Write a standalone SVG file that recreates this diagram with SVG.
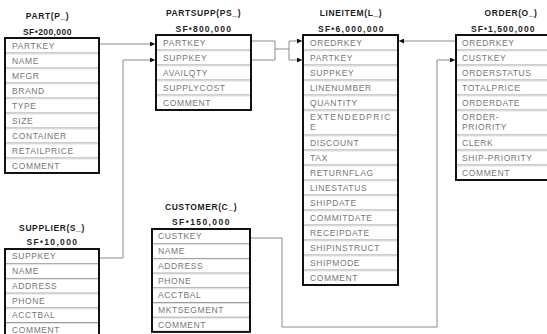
<svg xmlns="http://www.w3.org/2000/svg" width="547" height="334" viewBox="0 0 547 334">
  <style>
    .bg { fill: #ffffff; }
    .box { fill: #ffffff; stroke: #111111; stroke-width: 2; }
    .sep { stroke: #9c9c9c; stroke-width: 1; }
    .sep2 { stroke: #e2e2e2; stroke-width: 1; }
    .fld { font-family: "Liberation Sans", Arial, sans-serif; font-size: 8.5px; fill: #777777; letter-spacing: 0.6px; }
    .ttl { font-family: "Liberation Sans", Arial, sans-serif; font-size: 8.5px; font-weight: bold; fill: #1e1e1e; text-anchor: middle; letter-spacing: 0.6px; }
    .conn { fill: none; stroke: #8c8c8c; stroke-width: 1; }
  </style>
  <defs>
    <marker id="arr" viewBox="0 0 5 5" refX="5" refY="2.5" markerWidth="5" markerHeight="5" markerUnits="userSpaceOnUse" orient="auto">
      <path d="M0,0 L5,2.5 L0,5 z" fill="#111111"/>
    </marker>
  </defs>
  <rect class="bg" x="0" y="0" width="547" height="334"/>

  <!-- relationships -->
  <g id="connectors">
    <path class="conn" d="M99,44 H155" marker-end="url(#arr)"/>
    <path class="conn" d="M99,258 H123 V60 H155" marker-end="url(#arr)"/>
    <path class="conn" d="M251,41 H275 V60 H251 M275,49 H289 M289,41 V60"/>
    <path class="conn" d="M289,41 H302" marker-end="url(#arr)"/>
    <path class="conn" d="M289,60 H302" marker-end="url(#arr)"/>
    <path class="conn" d="M456,41 H399" marker-end="url(#arr)"/>
    <path class="conn" d="M250,238 H282 V327 H437 V60 H455" marker-end="url(#arr)"/>
  </g>

  <!-- PART -->
  <g id="part">
    <text class="ttl" x="47.5" y="19">PART(P_)</text>
    <text class="ttl" x="47.5" y="35" textLength="49" lengthAdjust="spacing">SF•200,000</text>
    <rect class="box" x="5" y="38" width="94" height="135"/>
    <g>
      <line class="sep" x1="6" y1="53" x2="98" y2="53"/><line class="sep2" x1="6" y1="54" x2="98" y2="54"/>
      <line class="sep" x1="6" y1="68" x2="98" y2="68"/><line class="sep2" x1="6" y1="69" x2="98" y2="69"/>
      <line class="sep" x1="6" y1="83" x2="98" y2="83"/><line class="sep2" x1="6" y1="84" x2="98" y2="84"/>
      <line class="sep" x1="6" y1="98" x2="98" y2="98"/><line class="sep2" x1="6" y1="99" x2="98" y2="99"/>
      <line class="sep" x1="6" y1="113" x2="98" y2="113"/><line class="sep2" x1="6" y1="114" x2="98" y2="114"/>
      <line class="sep" x1="6" y1="128" x2="98" y2="128"/><line class="sep2" x1="6" y1="129" x2="98" y2="129"/>
      <line class="sep" x1="6" y1="143" x2="98" y2="143"/><line class="sep2" x1="6" y1="144" x2="98" y2="144"/>
      <line class="sep" x1="6" y1="158" x2="98" y2="158"/><line class="sep2" x1="6" y1="159" x2="98" y2="159"/>
    </g>
    <text class="fld" x="12" y="48.5">PARTKEY</text>
    <text class="fld" x="12" y="63.5">NAME</text>
    <text class="fld" x="12" y="78.5">MFGR</text>
    <text class="fld" x="12" y="93.5">BRAND</text>
    <text class="fld" x="12" y="108.5">TYPE</text>
    <text class="fld" x="12" y="123.5">SIZE</text>
    <text class="fld" x="12" y="138.5">CONTAINER</text>
    <text class="fld" x="12" y="153.5">RETAILPRICE</text>
    <text class="fld" x="12" y="168.5">COMMENT</text>
  </g>

  <!-- PARTSUPP -->
  <g id="partsupp">
    <text class="ttl" x="203.5" y="16">PARTSUPP(PS_)</text>
    <text class="ttl" x="203.5" y="32" textLength="56" lengthAdjust="spacing">SF•800,000</text>
    <rect class="box" x="156" y="35" width="95" height="75"/>
    <g>
      <line class="sep" x1="157" y1="50" x2="250" y2="50"/><line class="sep2" x1="157" y1="51" x2="250" y2="51"/>
      <line class="sep" x1="157" y1="65" x2="250" y2="65"/><line class="sep2" x1="157" y1="66" x2="250" y2="66"/>
      <line class="sep" x1="157" y1="80" x2="250" y2="80"/><line class="sep2" x1="157" y1="81" x2="250" y2="81"/>
      <line class="sep" x1="157" y1="95" x2="250" y2="95"/><line class="sep2" x1="157" y1="96" x2="250" y2="96"/>
    </g>
    <text class="fld" x="163" y="45.5">PARTKEY</text>
    <text class="fld" x="163" y="60.5">SUPPKEY</text>
    <text class="fld" x="163" y="75.5">AVAILQTY</text>
    <text class="fld" x="163" y="90.5">SUPPLYCOST</text>
    <text class="fld" x="163" y="105.5">COMMENT</text>
  </g>

  <!-- LINEITEM -->
  <g id="lineitem">
    <text class="ttl" x="351" y="16">LINEITEM(L_)</text>
    <text class="ttl" x="351" y="32" textLength="66" lengthAdjust="spacing">SF•6,000,000</text>
    <rect class="box" x="303" y="35" width="95" height="250"/>
    <g>
      <line class="sep" x1="304" y1="50" x2="397" y2="50"/><line class="sep2" x1="304" y1="51" x2="397" y2="51"/>
      <line class="sep" x1="304" y1="65" x2="397" y2="65"/><line class="sep2" x1="304" y1="66" x2="397" y2="66"/>
      <line class="sep" x1="304" y1="80" x2="397" y2="80"/><line class="sep2" x1="304" y1="81" x2="397" y2="81"/>
      <line class="sep" x1="304" y1="95" x2="397" y2="95"/><line class="sep2" x1="304" y1="96" x2="397" y2="96"/>
      <line class="sep" x1="304" y1="110" x2="397" y2="110"/><line class="sep2" x1="304" y1="111" x2="397" y2="111"/>
      <line class="sep" x1="304" y1="135" x2="397" y2="135"/><line class="sep2" x1="304" y1="136" x2="397" y2="136"/>
      <line class="sep" x1="304" y1="150" x2="397" y2="150"/><line class="sep2" x1="304" y1="151" x2="397" y2="151"/>
      <line class="sep" x1="304" y1="165" x2="397" y2="165"/><line class="sep2" x1="304" y1="166" x2="397" y2="166"/>
      <line class="sep" x1="304" y1="180" x2="397" y2="180"/><line class="sep2" x1="304" y1="181" x2="397" y2="181"/>
      <line class="sep" x1="304" y1="195" x2="397" y2="195"/><line class="sep2" x1="304" y1="196" x2="397" y2="196"/>
      <line class="sep" x1="304" y1="210" x2="397" y2="210"/><line class="sep2" x1="304" y1="211" x2="397" y2="211"/>
      <line class="sep" x1="304" y1="225" x2="397" y2="225"/><line class="sep2" x1="304" y1="226" x2="397" y2="226"/>
      <line class="sep" x1="304" y1="240" x2="397" y2="240"/><line class="sep2" x1="304" y1="241" x2="397" y2="241"/>
      <line class="sep" x1="304" y1="255" x2="397" y2="255"/><line class="sep2" x1="304" y1="256" x2="397" y2="256"/>
      <line class="sep" x1="304" y1="270" x2="397" y2="270"/><line class="sep2" x1="304" y1="271" x2="397" y2="271"/>
    </g>
    <text class="fld" x="310" y="45.5">OREDRKEY</text>
    <text class="fld" x="310" y="60.5">PARTKEY</text>
    <text class="fld" x="310" y="75.5">SUPPKEY</text>
    <text class="fld" x="310" y="90.5">LINENUMBER</text>
    <text class="fld" x="310" y="105.5">QUANTITY</text>
    <text class="fld" x="310" y="120" textLength="81" lengthAdjust="spacing">EXTENDEDPRIC</text>
    <text class="fld" x="310" y="130">E</text>
    <text class="fld" x="310" y="145.5">DISCOUNT</text>
    <text class="fld" x="310" y="160.5">TAX</text>
    <text class="fld" x="310" y="175.5">RETURNFLAG</text>
    <text class="fld" x="310" y="190.5">LINESTATUS</text>
    <text class="fld" x="310" y="205.5">SHIPDATE</text>
    <text class="fld" x="310" y="220.5">COMMITDATE</text>
    <text class="fld" x="310" y="235.5">RECEIPDATE</text>
    <text class="fld" x="310" y="250.5">SHIPINSTRUCT</text>
    <text class="fld" x="310" y="265.5">SHIPMODE</text>
    <text class="fld" x="310" y="280.5">COMMENT</text>
  </g>

  <!-- ORDER -->
  <g id="order">
    <text class="ttl" x="511" y="16">ORDER(O_)</text>
    <text class="ttl" x="503" y="32" textLength="64" lengthAdjust="spacing">SF•1,500,000</text>
    <rect class="box" x="456" y="35" width="95" height="145"/>
    <g>
      <line class="sep" x1="457" y1="50" x2="550" y2="50"/><line class="sep2" x1="457" y1="51" x2="550" y2="51"/>
      <line class="sep" x1="457" y1="65" x2="550" y2="65"/><line class="sep2" x1="457" y1="66" x2="550" y2="66"/>
      <line class="sep" x1="457" y1="80" x2="550" y2="80"/><line class="sep2" x1="457" y1="81" x2="550" y2="81"/>
      <line class="sep" x1="457" y1="95" x2="550" y2="95"/><line class="sep2" x1="457" y1="96" x2="550" y2="96"/>
      <line class="sep" x1="457" y1="110" x2="550" y2="110"/><line class="sep2" x1="457" y1="111" x2="550" y2="111"/>
      <line class="sep" x1="457" y1="135" x2="550" y2="135"/><line class="sep2" x1="457" y1="136" x2="550" y2="136"/>
      <line class="sep" x1="457" y1="150" x2="550" y2="150"/><line class="sep2" x1="457" y1="151" x2="550" y2="151"/>
      <line class="sep" x1="457" y1="165" x2="550" y2="165"/><line class="sep2" x1="457" y1="166" x2="550" y2="166"/>
    </g>
    <text class="fld" x="462" y="45.5">OREDRKEY</text>
    <text class="fld" x="462" y="60.5">CUSTKEY</text>
    <text class="fld" x="462" y="75.5">ORDERSTATUS</text>
    <text class="fld" x="462" y="90.5">TOTALPRICE</text>
    <text class="fld" x="462" y="105.5">ORDERDATE</text>
    <text class="fld" x="462" y="120">ORDER-</text>
    <text class="fld" x="462" y="130">PRIORITY</text>
    <text class="fld" x="462" y="145.5">CLERK</text>
    <text class="fld" x="462" y="160.5">SHIP-PRIORITY</text>
    <text class="fld" x="462" y="175.5">COMMENT</text>
  </g>

  <!-- SUPPLIER -->
  <g id="supplier">
    <text class="ttl" x="52" y="230.5">SUPPLIER(S_)</text>
    <text class="ttl" x="52" y="245" textLength="51" lengthAdjust="spacing">SF•10,000</text>
    <rect class="box" x="5" y="249" width="94" height="88.2"/>
    <g>
      <line class="sep" x1="6" y1="263.7" x2="98" y2="263.7"/><line class="sep2" x1="6" y1="264.7" x2="98" y2="264.7"/>
      <line class="sep" x1="6" y1="278.4" x2="98" y2="278.4"/><line class="sep2" x1="6" y1="279.4" x2="98" y2="279.4"/>
      <line class="sep" x1="6" y1="293.1" x2="98" y2="293.1"/><line class="sep2" x1="6" y1="294.1" x2="98" y2="294.1"/>
      <line class="sep" x1="6" y1="307.8" x2="98" y2="307.8"/><line class="sep2" x1="6" y1="308.8" x2="98" y2="308.8"/>
      <line class="sep" x1="6" y1="322.5" x2="98" y2="322.5"/><line class="sep2" x1="6" y1="323.5" x2="98" y2="323.5"/>
    </g>
    <text class="fld" x="12" y="259.4">SUPPKEY</text>
    <text class="fld" x="12" y="274.1">NAME</text>
    <text class="fld" x="12" y="288.8">ADDRESS</text>
    <text class="fld" x="12" y="303.5">PHONE</text>
    <text class="fld" x="12" y="318.2">ACCTBAL</text>
    <text class="fld" x="12" y="332.9">COMMENT</text>
  </g>

  <!-- CUSTOMER -->
  <g id="customer">
    <text class="ttl" x="201" y="210">CUSTOMER(C_)</text>
    <text class="ttl" x="201" y="224.5" textLength="58" lengthAdjust="spacing">SF•150,000</text>
    <rect class="box" x="152" y="229" width="98" height="102.9"/>
    <g>
      <line class="sep" x1="153" y1="243.7" x2="249" y2="243.7"/><line class="sep2" x1="153" y1="244.7" x2="249" y2="244.7"/>
      <line class="sep" x1="153" y1="258.4" x2="249" y2="258.4"/><line class="sep2" x1="153" y1="259.4" x2="249" y2="259.4"/>
      <line class="sep" x1="153" y1="273.1" x2="249" y2="273.1"/><line class="sep2" x1="153" y1="274.1" x2="249" y2="274.1"/>
      <line class="sep" x1="153" y1="287.8" x2="249" y2="287.8"/><line class="sep2" x1="153" y1="288.8" x2="249" y2="288.8"/>
      <line class="sep" x1="153" y1="302.5" x2="249" y2="302.5"/><line class="sep2" x1="153" y1="303.5" x2="249" y2="303.5"/>
      <line class="sep" x1="153" y1="317.2" x2="249" y2="317.2"/><line class="sep2" x1="153" y1="318.2" x2="249" y2="318.2"/>
    </g>
    <text class="fld" x="158" y="239.4">CUSTKEY</text>
    <text class="fld" x="158" y="254.1">NAME</text>
    <text class="fld" x="158" y="268.8">ADDRESS</text>
    <text class="fld" x="158" y="283.5">PHONE</text>
    <text class="fld" x="158" y="298.2">ACCTBAL</text>
    <text class="fld" x="158" y="312.9">MKTSEGMENT</text>
    <text class="fld" x="158" y="327.6">COMMENT</text>
  </g>
</svg>
